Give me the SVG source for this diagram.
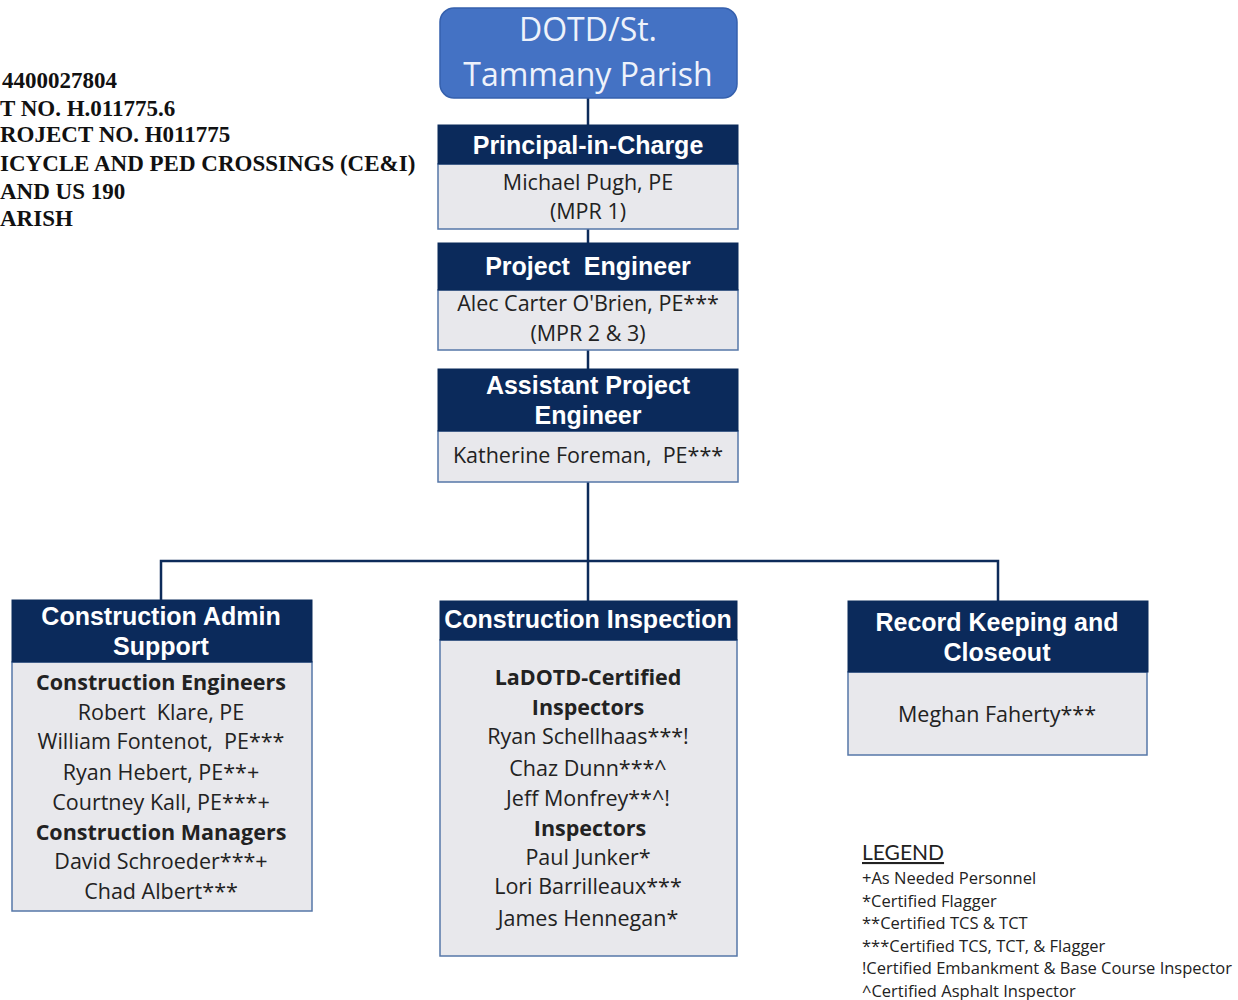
<svg xmlns="http://www.w3.org/2000/svg" width="1238" height="1000" viewBox="0 0 1238 1000">
<style>
.hdr{fill:#0b2a5b;stroke:#0b2a5b;stroke-width:1}
.body{fill:#e8e8ec;stroke:#5677a8;stroke-width:1.5}
.ht{font-family:"Liberation Sans",Arial,sans-serif;font-weight:bold;font-size:25px;fill:#ffffff;text-anchor:middle}
.bt{font-family:"Open Sans",Lato,sans-serif;font-size:21.5px;fill:#222222;text-anchor:middle}
.bb{font-weight:bold}
.tl{font-family:"Liberation Serif","Times New Roman",serif;font-weight:bold;font-size:23px;fill:#111111}
.lg{font-family:"Open Sans",Lato,sans-serif;font-size:16.5px;fill:#222222}
.conn{stroke:#0d2b5a;stroke-width:2.5;fill:none}
</style>
<rect width="1238" height="1000" fill="#ffffff"/>
<g id="title-text">
<text class="tl" x="2" y="88">4400027804</text>
<text class="tl" x="0" y="116">T NO. H.011775.6</text>
<text class="tl" x="0" y="142">ROJECT NO. H011775</text>
<text class="tl" x="0" y="171">ICYCLE AND PED CROSSINGS (CE&amp;I)</text>
<text class="tl" x="0" y="199">AND US 190</text>
<text class="tl" x="0" y="226">ARISH</text>
</g>
<g id="connectors">
<line class="conn" x1="588" y1="98" x2="588" y2="125"/>
<line class="conn" x1="588" y1="229" x2="588" y2="243"/>
<line class="conn" x1="588" y1="350" x2="588" y2="369"/>
<line class="conn" x1="588" y1="482" x2="588" y2="601"/>
<polyline class="conn" points="161,600 161,561 998,561 998,601"/>
</g>
<g id="dotd">
<rect x="440" y="8" width="297" height="90" rx="14" ry="14" fill="#4472c4" stroke="#3560ad" stroke-width="1.5"/>
<text x="588" y="41" font-family="'Open Sans',Lato,sans-serif" font-size="32" fill="#eef2fb" text-anchor="middle">DOTD/St.</text>
<text x="588" y="86" font-family="'Open Sans',Lato,sans-serif" font-size="32" fill="#eef2fb" text-anchor="middle">Tammany Parish</text>
</g>
<g id="principal">
<rect class="body" x="438" y="164" width="300" height="65"/>
<rect class="hdr" x="438" y="125" width="300" height="39"/>
<text class="ht" x="588" y="154">Principal-in-Charge</text>
<text class="bt" x="588" y="190">Michael Pugh, PE</text>
<text class="bt" x="588" y="219">(MPR 1)</text>
</g>
<g id="project-engineer">
<rect class="body" x="438" y="290" width="300" height="60"/>
<rect class="hdr" x="438" y="243" width="300" height="47"/>
<text class="ht" x="588" y="275" xml:space="preserve">Project  Engineer</text>
<text class="bt" x="588" y="311">Alec Carter O'Brien, PE***</text>
<text class="bt" x="588" y="341">(MPR 2 &amp; 3)</text>
</g>
<g id="assistant-pe">
<rect class="body" x="438" y="431" width="300" height="51"/>
<rect class="hdr" x="438" y="369" width="300" height="62"/>
<text class="ht" x="588" y="394">Assistant Project</text>
<text class="ht" x="588" y="424">Engineer</text>
<text class="bt" x="588" y="463" xml:space="preserve">Katherine Foreman,  PE***</text>
</g>
<g id="admin-support">
<rect class="body" x="12" y="662" width="300" height="249"/>
<rect class="hdr" x="12" y="600" width="300" height="62"/>
<text class="ht" x="161" y="625">Construction Admin</text>
<text class="ht" x="161" y="655">Support</text>
<text class="bt bb" x="161" y="690">Construction Engineers</text>
<text class="bt" x="161" y="720" xml:space="preserve">Robert  Klare, PE</text>
<text class="bt" x="161" y="749" xml:space="preserve">William Fontenot,  PE***</text>
<text class="bt" x="161" y="780">Ryan Hebert, PE**+</text>
<text class="bt" x="161" y="810">Courtney Kall, PE***+</text>
<text class="bt bb" x="161" y="840">Construction Managers</text>
<text class="bt" x="161" y="869">David Schroeder***+</text>
<text class="bt" x="161" y="899">Chad Albert***</text>
</g>
<g id="inspection">
<rect class="body" x="440" y="640" width="297" height="316"/>
<rect class="hdr" x="440" y="601" width="297" height="39"/>
<text class="ht" x="588" y="628">Construction Inspection</text>
<text class="bt bb" x="588" y="685">LaDOTD-Certified</text>
<text class="bt bb" x="588" y="715">Inspectors</text>
<text class="bt" x="588" y="744">Ryan Schellhaas***!</text>
<text class="bt" x="588" y="776">Chaz Dunn***^</text>
<text class="bt" x="588" y="806">Jeff Monfrey**^!</text>
<text class="bt bb" x="590" y="836">Inspectors</text>
<text class="bt" x="588" y="865">Paul Junker*</text>
<text class="bt" x="588" y="894">Lori Barrilleaux***</text>
<text class="bt" x="588" y="926">James Hennegan*</text>
</g>
<g id="record-keeping">
<rect class="body" x="848" y="672" width="299" height="83"/>
<rect class="hdr" x="848" y="601" width="300" height="71"/>
<text class="ht" x="997" y="631">Record Keeping and</text>
<text class="ht" x="997" y="661">Closeout</text>
<text class="bt" x="997" y="722">Meghan Faherty***</text>
</g>
<g id="legend">
<text x="862" y="860" font-family="Lato,'Open Sans',sans-serif" font-size="21" fill="#222222" text-decoration="underline">LEGEND</text>
<text class="lg" x="862" y="884">+As Needed Personnel</text>
<text class="lg" x="862" y="907">*Certified Flagger</text>
<text class="lg" x="862" y="929">**Certified TCS &amp; TCT</text>
<text class="lg" x="862" y="952">***Certified TCS, TCT, &amp; Flagger</text>
<text class="lg" x="862" y="974">!Certified Embankment &amp; Base Course Inspector</text>
<text class="lg" x="862" y="997">^Certified Asphalt Inspector</text>
</g>
</svg>
